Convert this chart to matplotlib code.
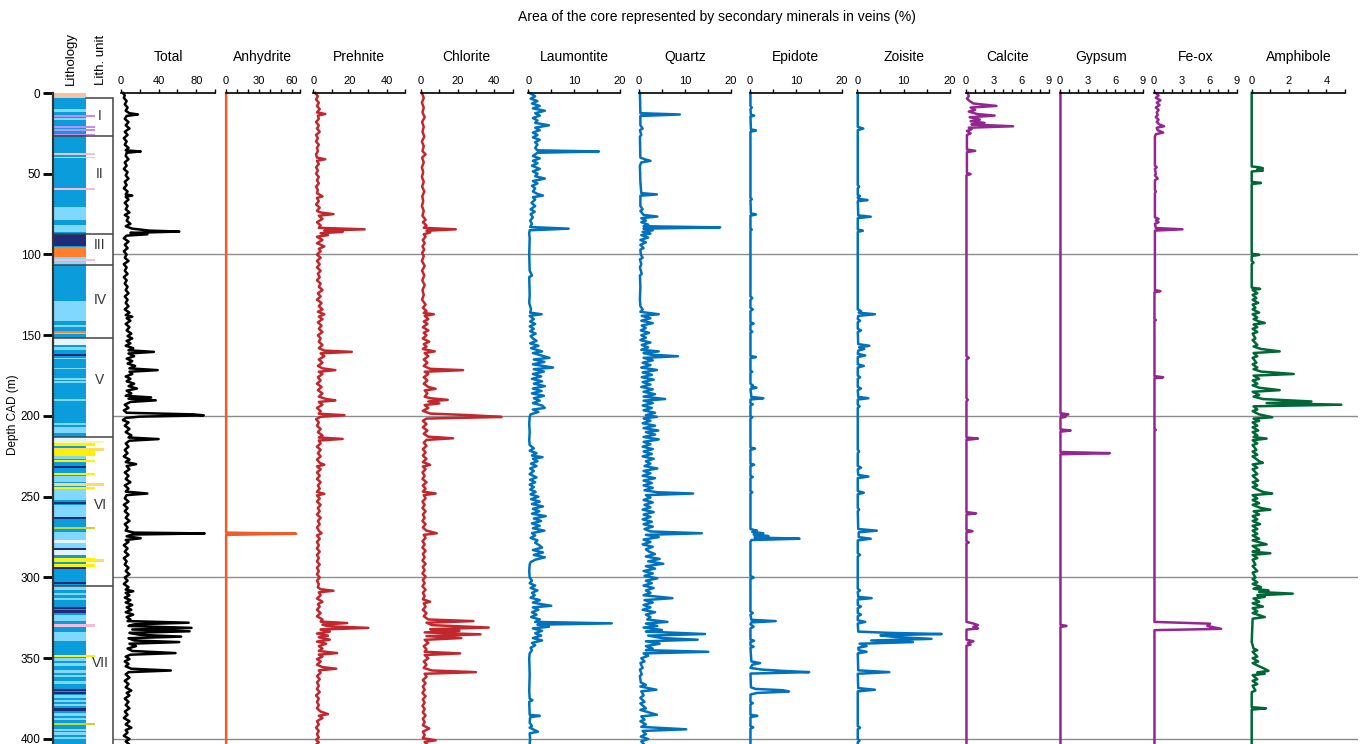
import numpy as np
import matplotlib.pyplot as plt
from matplotlib.patches import Rectangle

plt.rcParams['font.family'] = ['Liberation Sans', 'DejaVu Sans']

# ---------------------------------------------------------------------------
# Vein mineral logs: (depth CAD in m, % of core area)
# ---------------------------------------------------------------------------
TOTAL = [
    (0, 2), (1.5, 4), (3, 3), (5, 6), (7, 4), (9, 7), (11, 5), (12.5, 9), (13.3, 18), (14.2, 6),
    (16, 4), (18, 8), (20, 5), (22, 9), (24, 4), (26, 7), (28, 3), (30, 6), (32, 4), (34, 8),
    (35.5, 5), (36.2, 21), (37, 6), (39, 5), (41, 8), (43, 4), (45, 6), (47, 3), (49, 7), (51, 5),
    (53, 8), (55, 4), (57, 6), (59, 3), (61, 7), (62.8, 5), (63.5, 12), (64.3, 5), (66, 8), (68, 4),
    (70, 7), (72, 5), (74, 9), (75.5, 4), (77, 8), (79, 6), (81, 10), (82.5, 5), (84, 12), (85.2, 30),
    (85.8, 62), (86.6, 10), (87.5, 28), (88.3, 6), (90, 3), (92, 8), (94, 4), (96, 7), (98, 3), (100, 6),
    (102, 4), (104, 8), (106, 3), (108, 6), (110, 4), (112, 7), (114, 3), (116, 6), (118, 4), (120, 7),
    (122, 5), (124, 8), (126, 4), (128, 7), (130, 5), (132, 8), (134, 4), (136, 9), (137.5, 5), (138.5, 12),
    (139.5, 6), (141, 10), (143, 5), (145, 9), (147, 6), (149, 11), (150.5, 7), (152, 12), (153.5, 6), (155, 10),
    (156.5, 5), (158, 13), (159.3, 8), (160.3, 35), (161.3, 8), (163, 14), (164.5, 6), (166, 12), (167.5, 7), (169, 15),
    (170.5, 9), (171.6, 39), (172.6, 9), (174, 12), (175.5, 5), (177, 10), (178.5, 6), (180, 14), (181.5, 8), (183, 17),
    (184.3, 6), (186, 11), (187.5, 5), (188.5, 32), (189.3, 8), (190.3, 37), (191.3, 10), (193, 4), (195, 8), (196.5, 3),
    (198, 6), (199, 77), (199.6, 88), (200.4, 20), (201.2, 5), (202.5, 2), (204, 8), (206, 4), (208, 9), (210, 5),
    (212, 11), (213.3, 8), (214.3, 40), (215.3, 9), (217, 5), (219, 8), (221, 4), (223, 7), (225, 3), (227, 9),
    (228.5, 5), (229.8, 16), (231, 6), (233, 9), (235, 4), (237, 8), (239, 5), (241, 10), (243, 4), (245, 8),
    (246.8, 5), (248, 28), (249, 6), (251, 4), (253, 8), (255, 3), (257, 7), (259, 4), (261, 8), (263, 5),
    (265, 9), (267, 4), (269, 7), (271, 5), (272.2, 14), (272.7, 89), (273.4, 12), (274.5, 6), (275.7, 21), (276.8, 5),
    (278, 8), (280, 3), (282, 7), (284, 4), (286, 8), (288, 3), (290, 6), (292, 4), (294, 8), (296, 5),
    (298, 9), (300, 4), (302, 7), (304, 3), (306, 8), (307.5, 5), (308.5, 13), (309.5, 5), (311, 9), (312.5, 4),
    (314, 10), (315.5, 5), (317, 12), (318.5, 6), (320, 11), (321.5, 5), (323, 13), (324.5, 6), (326, 10), (327, 7),
    (328, 72), (329, 14), (330, 8), (331.2, 75), (332.2, 12), (333.3, 73), (334.3, 9), (335.5, 20), (336.6, 64), (337.6, 8),
    (339, 14), (340, 62), (341, 9), (342.5, 16), (344, 7), (345.5, 12), (346.8, 58), (347.8, 10), (349, 5), (350.5, 9),
    (352, 4), (353.5, 8), (355, 5), (356.5, 11), (357.6, 53), (358.6, 8), (360, 5), (362, 9), (364, 4), (366, 8),
    (368, 5), (370, 11), (371.5, 6), (373, 9), (375, 4), (377, 8), (379, 5), (381, 9), (383, 4), (385, 7),
    (387, 3), (389, 9), (391, 5), (393, 11), (394.5, 5), (396, 7), (398, 3), (400, 9), (401.5, 5), (403, 8),
]

ANHYDRITE = [(0, 0.4), (272.2, 0.4), (272.9, 64), (273.6, 0.4), (403, 0.4)]

PREHNITE = [
    (0, 1), (2, 2.5), (4, 1.5), (6, 3), (8, 2), (10, 3.5), (12, 2), (13, 6.5), (14, 2.5), (16, 3),
    (18, 1.5), (20, 3), (22, 2), (24, 3.5), (26, 1.5), (28, 2.5), (30, 1.5), (32, 3), (34, 2), (36, 2.5),
    (38, 1.5), (40, 2), (41, 6.5), (42, 2), (44, 3), (46, 1.5), (48, 2.5), (50, 1.5), (52, 3), (54, 2),
    (56, 3), (58, 1.5), (60, 2.5), (62, 2), (64, 5), (65, 2), (67, 3), (69, 1.5), (71, 3.5), (73, 2),
    (74, 4), (75, 11), (76, 3), (78, 5), (80, 2), (82, 4), (83.5, 3), (84.4, 28), (85.2, 6), (86, 16),
    (86.8, 4), (88, 8), (89, 2), (91, 5), (93, 2), (95, 6), (96.5, 3), (98, 4), (100, 2), (102, 4),
    (104, 2), (106, 3.5), (108, 2), (110, 4), (112, 2.5), (114, 3.5), (116, 2), (118, 4), (120, 3), (122, 5),
    (124, 2.5), (126, 4), (128, 2), (130, 4.5), (132, 3), (134, 5), (135.5, 2.5), (137, 6), (138.5, 3), (140, 5),
    (142, 2.5), (144, 4.5), (146, 3), (148, 5), (150, 2.5), (152, 4), (154, 3), (156, 5), (158, 3), (159.5, 6),
    (160.3, 21), (161.2, 4), (163, 6), (165, 3), (167, 5), (169, 2.5), (170.5, 5), (171.6, 12), (172.6, 3), (174, 5),
    (176, 2.5), (178, 4), (180, 2), (182, 4.5), (184, 2.5), (186, 5), (188, 3), (189.5, 7), (190.3, 12), (191.3, 3),
    (193, 5), (195, 2), (197, 4), (198.6, 3), (199.5, 17), (200.5, 4), (202, 1.5), (204, 3), (206, 2), (208, 4),
    (210, 2.5), (212, 5), (213.3, 3), (214.2, 16), (215.2, 3), (217, 4), (219, 2), (221, 4), (223, 2.5), (225, 4),
    (227, 2), (229, 3.5), (230.2, 6), (231.2, 2), (233, 4), (235, 2), (237, 3.5), (239, 2), (241, 4), (243, 2.5),
    (245, 3.5), (247, 2), (248.2, 6), (249.2, 2), (251, 3.5), (253, 2), (255, 4), (257, 2.5), (259, 3.5), (261, 2),
    (263, 4), (265, 2.5), (267, 3.5), (269, 2), (271, 3), (272.6, 4.5), (274, 2), (276, 3.5), (278, 2), (280, 3),
    (282, 2), (284, 3.5), (286, 2), (288, 3), (290, 2), (292, 3.5), (294, 2), (296, 3), (298, 2), (300, 3.5),
    (302, 2), (304, 3), (306, 2.5), (307.3, 4), (308.2, 11), (309.2, 3), (311, 4), (313, 2), (315, 5), (316.5, 2.5),
    (318, 3.5), (320, 2), (322, 4), (324, 2), (326, 5), (327.3, 4), (328.2, 18.5), (329.2, 5), (330.2, 8), (331.2, 30),
    (332.2, 4), (333.5, 9), (334.7, 2), (336, 8), (337, 3), (338.5, 9), (339.7, 2), (341, 7), (342.5, 3), (344, 5),
    (345.5, 3), (346.8, 13), (347.8, 3), (349, 5), (350.5, 2), (352, 4), (354, 2), (355.5, 5), (356.5, 12.5), (357.5, 3),
    (359, 4), (361, 2), (363, 3.5), (365, 2), (367, 3), (369, 2), (371, 3.5), (373, 1.5), (375, 3), (377, 2),
    (379, 3), (381, 2), (383, 4), (384.6, 8), (385.6, 3), (387, 5), (389, 2), (391, 3), (393, 1.5), (395, 3),
    (397, 2), (399, 3), (400.5, 1.5), (402, 3), (403, 2),
]

CHLORITE = [
    (0, 0.5), (3, 1.5), (6, 0.5), (9, 1.5), (12, 0.8), (15, 2), (18, 0.6), (21, 1.5), (24, 0.8), (27, 1.8),
    (30, 0.5), (33, 1.5), (36, 0.8), (38, 2.5), (40, 0.6), (43, 1.5), (46, 0.5), (49, 1.2), (52, 0.5), (55, 1.5),
    (58, 0.6), (61, 1.8), (64, 0.7), (67, 1.2), (70, 0.5), (73, 1.5), (76, 0.8), (78.5, 2.5), (80, 1), (82, 3),
    (83.5, 1.5), (84.4, 19), (85.3, 3), (86.3, 5), (87.5, 1.5), (89, 2.5), (91, 1), (93, 2), (95, 0.8), (97, 1.8),
    (99, 0.6), (101, 1.5), (104, 0.5), (107, 2), (110, 0.6), (113, 1.8), (116, 0.7), (119, 2), (122, 0.8), (125, 1.5),
    (128, 0.6), (131, 2.5), (133, 1), (135, 3), (136.2, 1.5), (137, 7), (138, 2), (140, 4), (141.5, 1.5), (143, 3.5),
    (145, 1), (147, 4), (148.5, 1.5), (150, 3), (152, 1), (154, 4.5), (155.5, 1.5), (157, 3), (158.5, 1), (160, 7.5),
    (161, 2), (163, 4), (165, 1.5), (167, 3.5), (169, 1.5), (170.8, 5), (171.6, 23), (172.6, 2), (174, 4), (176, 1.5),
    (178, 3.5), (180, 1.5), (182, 4), (183.2, 8), (184.2, 2), (186, 3.5), (188, 2), (189, 5), (190, 14.6), (191, 4),
    (192.2, 10), (193.2, 2), (195, 4), (196.8, 1), (198.5, 5), (199.5, 27), (200.6, 44), (201.6, 3), (203, 1), (205, 3),
    (207, 1), (209, 3.5), (211, 1.5), (212.8, 4), (213.8, 17.5), (214.8, 3), (216.5, 1.5), (218.5, 3), (220.5, 1), (222.5, 2.5),
    (224.5, 1), (226.5, 3), (228.5, 1), (230.3, 5), (231.3, 1), (233, 2.5), (235, 0.8), (237, 2), (239, 0.8), (241, 3),
    (243, 1), (245, 2.5), (246.8, 1), (248, 8), (249, 1.5), (251, 2.5), (253, 0.8), (255, 2), (257, 0.8), (259, 2.5),
    (261, 1), (263, 2), (265, 0.8), (267, 2.5), (269, 1), (271, 3), (272.6, 8.6), (273.6, 1.5), (275.5, 2.5), (277.5, 0.8),
    (279.5, 2), (281.5, 0.8), (283.5, 2.5), (285.5, 1), (287.5, 2), (289.5, 0.8), (291.5, 2.5), (293.5, 1), (295.5, 2), (297.5, 0.8),
    (299.5, 2.5), (301.5, 1), (303.5, 2), (305.5, 0.8), (307.5, 2.5), (309.5, 1), (311.5, 2), (313.5, 1), (315, 5), (316, 1.5),
    (318, 2.5), (320, 1), (322, 3), (324, 1.5), (326, 4), (327, 28.6), (328, 3), (329.5, 6), (331, 37), (332, 5),
    (333, 21), (334, 2), (335.2, 32.5), (336.3, 3), (337.5, 22), (338.6, 2), (340.5, 4), (342.5, 1.5), (344.5, 3), (346, 2),
    (347, 21.4), (348, 2), (350, 4), (352, 1.5), (354, 3), (356, 1.5), (357.6, 6), (358.6, 30), (359.6, 2), (361.5, 3),
    (363.5, 1), (365.5, 2.5), (367.5, 1), (369.5, 2), (371.5, 0.8), (373.5, 2.5), (375.5, 1), (377.5, 2), (379.5, 0.8), (381.5, 2),
    (383.5, 1), (385.5, 2.5), (387.5, 1), (389.5, 2), (391.5, 1), (393.5, 4.5), (395.5, 1), (397.5, 2), (399.5, 1), (400.8, 8),
    (401.8, 2), (403, 3),
]

LAUMONTITE = [
    (0, 0.3), (2, 1.5), (3.5, 0.5), (5, 2), (6.5, 0.8), (8, 2.5), (9.5, 1), (11, 3.6), (12.5, 1.5), (14, 2.5),
    (15.5, 1), (17, 2), (18.5, 1.5), (20, 4.5), (21.5, 1.5), (23, 2.5), (24.5, 1), (26, 2), (27.5, 1), (29, 2.5),
    (30.5, 1.5), (32, 2), (34, 1.5), (35.5, 2), (36.2, 15.4), (37, 2), (39, 1), (40.5, 2.5), (42, 1), (43.5, 2),
    (45, 0.8), (47, 2.5), (48.5, 1), (50, 2), (51.5, 1.5), (53, 3.6), (54.5, 1), (56, 2), (57.5, 0.8), (59, 1.5),
    (61, 1), (62.5, 2), (63.5, 3.2), (64.5, 1), (66, 1.5), (68, 0.7), (70, 1.5), (72, 0.5), (73.5, 1.4), (75, 0.5),
    (77, 1), (79, 0.4), (81, 0.8), (83, 0.4), (84, 8.8), (85, 0.3), (87, 0.2), (90, 0.3), (100, 0.2), (110, 0.3),
    (113, 0.8), (114, 0.2), (125, 0.3), (130, 0.2), (134, 0.6), (136, 0.4), (137, 2.9), (138, 0.3), (140, 1.2), (141.5, 0.4),
    (143, 1.5), (144.5, 0.3), (146, 1.2), (147.5, 0.4), (149, 1.6), (150.5, 0.5), (152, 1), (153.5, 1.8), (155, 0.4), (156.5, 2.2),
    (158, 0.6), (160, 3), (161, 1), (162.5, 2.8), (164, 4.6), (165, 1.2), (166.5, 3.5), (168, 1), (169, 3.2), (170, 5.4),
    (171, 1.2), (172.5, 3.4), (174, 1), (175.5, 2.8), (177, 0.8), (178.5, 3), (180, 1.2), (181.5, 3.6), (183, 1), (184.5, 2.9),
    (186, 0.8), (187.5, 3.4), (189, 1.2), (190.5, 2.5), (192, 1), (193.5, 3), (195, 3.6), (196, 1), (197.5, 2.2), (199, 0.5),
    (200.5, 0.3), (205, 0.2), (210, 0.3), (215, 0.2), (218, 0.3), (220, 1.2), (221.5, 0.3), (223, 1.8), (224.5, 0.8), (225.5, 3.1),
    (226.5, 1), (228, 2), (229.5, 0.6), (231, 1.8), (232.5, 0.4), (234, 1.2), (236, 0.3), (238, 1.8), (239.5, 0.4), (241, 1.5),
    (242.5, 0.3), (244, 1.2), (245.5, 0.4), (247, 1.6), (248.5, 0.5), (250, 2.2), (251.5, 0.6), (253, 2.5), (254.5, 0.8), (256, 3.2),
    (257.5, 1), (259, 2.4), (260.5, 0.8), (262, 3.8), (263.5, 1.2), (265, 2.8), (266.5, 0.8), (268, 2.5), (269.5, 1), (271, 3.5),
    (272.5, 0.8), (274, 1.5), (275.5, 0.5), (277, 2), (278.5, 1.5), (280, 2.4), (281.5, 3), (283, 1), (284.5, 3.2), (286, 1.2),
    (287.5, 3.6), (289, 1.5), (290.5, 0.5), (292, 0.3), (296, 0.2), (300, 0.3), (302, 0.8), (303.5, 0.3), (305, 1.5), (306.5, 0.5),
    (308, 2), (309.5, 0.8), (311, 1.4), (312.5, 0.5), (314, 2.5), (315.5, 1), (316.5, 2.8), (317.5, 5), (318.5, 1), (320, 2.2),
    (321.5, 0.8), (323, 1.8), (324.5, 0.6), (326, 2.5), (327.5, 1.5), (328.4, 18.2), (329.2, 2), (330.5, 4.5), (331.5, 1), (333, 3),
    (334.5, 1.5), (336, 2.8), (337.5, 1), (339, 3), (340.5, 0.8), (342, 1.5), (343.5, 0.5), (345, 0.8), (347, 0.3), (350, 0.2),
    (360, 0.3), (370, 0.2), (375, 0.3), (376, 0.9), (377, 0.2), (385, 0.3), (385.7, 2.5), (386.5, 0.4), (390, 0.3), (392, 0.8),
    (393, 0.3), (395.5, 2.1), (396.5, 0.3), (400, 0.4), (403, 0.3),
]

QUARTZ = [
    (0, 0.2), (12.5, 0.3), (13.3, 8.9), (14.2, 0.3), (20, 0.3), (22, 0.8), (23, 0.2), (26, 0.5), (27, 0.2), (40, 0.3),
    (41, 1.2), (42, 2.5), (43, 0.5), (45, 0.2), (55, 0.3), (62, 0.5), (62.8, 3.9), (63.6, 0.3), (70, 0.3), (72, 0.8),
    (73, 0.3), (75.5, 1), (76.5, 4), (77.5, 0.5), (79, 1.5), (80, 0.5), (81.5, 2), (82.5, 1), (83.2, 17.7), (84, 1),
    (85, 3), (86, 0.8), (87, 2.5), (88, 0.5), (89.5, 2), (91, 0.3), (92.5, 1.5), (94, 0.3), (96, 1), (97, 0.3),
    (100, 0.4), (102, 0.8), (103, 0.2), (106, 0.5), (108, 0.2), (112, 0.6), (113, 0.2), (120, 0.3), (128, 0.2), (132, 0.3),
    (134, 0.8), (135.5, 0.3), (137, 4.3), (138, 0.6), (139.5, 2.5), (141, 0.5), (142.5, 3), (144, 0.6), (145.5, 1.5), (147, 0.4),
    (148.5, 2.2), (150, 0.5), (151.5, 1.5), (153, 0.3), (154.5, 2.5), (156, 0.6), (157.5, 2), (159, 0.5), (160, 4.3), (161, 1),
    (162, 2.5), (163, 8.5), (164, 1), (165.5, 3), (167, 0.8), (168.5, 2.5), (170, 0.5), (171.5, 3.9), (173, 0.8), (174.5, 2.8),
    (176, 0.6), (177.5, 3.2), (179, 0.8), (180.5, 2.5), (182, 0.5), (183.5, 3), (185, 1), (186.5, 3.5), (188, 1), (189.5, 5.7),
    (190.5, 1), (192, 3), (193.5, 0.8), (195, 2.8), (196.5, 1), (198, 3.5), (199.5, 1.5), (200.5, 3.9), (201.5, 1), (203, 2.5),
    (204.5, 0.8), (206, 3.5), (207.5, 1), (209, 4.2), (210, 1.5), (211.5, 3.5), (213, 1), (214.5, 4.3), (216, 1), (217.5, 2.5),
    (219, 0.8), (220.5, 3), (222, 1), (223.5, 2.8), (225, 0.8), (226.5, 3.2), (228, 1.5), (229.5, 2.5), (231, 1.2), (232.5, 4),
    (234, 1), (235.5, 2.5), (237, 0.8), (238.5, 3.5), (240, 1), (241.5, 2.8), (243, 1), (244.5, 3), (246, 1.2), (247.2, 4),
    (248, 11.8), (249, 1.5), (250.5, 2.5), (252, 1), (253.5, 3), (255, 1.2), (256.5, 2.5), (258, 0.8), (259.5, 3.2), (261, 1),
    (262.5, 2.5), (264, 0.8), (265.5, 2.8), (267, 1), (268.5, 3), (270, 1.2), (271.5, 2.5), (272.6, 13.7), (273.6, 1.5), (275, 4.3),
    (276.5, 1), (278, 2.5), (279.5, 0.8), (281, 3), (282.5, 1.5), (284, 2.2), (285.5, 3.5), (287, 1.5), (288.5, 4.5), (290, 2),
    (291.5, 5.3), (293, 1.5), (294.5, 3.5), (296, 1), (297.5, 3), (299, 1.2), (300.5, 4), (302, 1.5), (303.5, 2.8), (305, 1),
    (306.5, 3.2), (308, 1.5), (309.5, 2.5), (311, 1), (312.8, 7.3), (314, 1.2), (315.5, 3), (317, 1), (318.5, 2.5), (320, 0.8),
    (321.5, 3.5), (323, 1.5), (324.5, 2.5), (326, 1.8), (327.5, 6.2), (328.5, 1.5), (330, 4), (331, 1), (332.5, 5), (333.5, 1.5),
    (335, 14.4), (336, 2), (337.5, 5), (338.5, 12.8), (339.5, 1.5), (341, 4.5), (342.5, 1.5), (344, 3), (345, 1.5), (346, 15.1),
    (347, 1), (348.5, 2), (350, 0.5), (352, 1.2), (353, 0.3), (356, 0.8), (357, 0.2), (360, 0.6), (361, 0.2), (365, 0.4),
    (366.5, 1.5), (367.5, 0.3), (369.5, 3.8), (370.5, 0.5), (373, 1), (374.5, 0.3), (377, 1.2), (378, 0.3), (381, 1.5), (382, 0.3),
    (385, 3.9), (386, 0.5), (388, 1.2), (389, 0.3), (391, 1.5), (392.5, 0.5), (394, 10.3), (395, 0.8), (397, 1.5), (398.5, 0.4),
    (400, 2), (401.5, 0.5), (403, 1),
]

EPIDOTE = [
    (0, 0.1), (8, 0.1), (9, 0.4), (10, 0.1), (13.5, 0.2), (14, 0.9), (14.6, 0.1), (22.5, 0.2), (23.2, 1.3), (24, 0.1),
    (65, 0.1), (65.8, 0.4), (66.5, 0.1), (74.5, 0.2), (75.2, 1.3), (76, 0.1), (84, 0.1), (84.6, 0.4), (85.2, 0.1), (126, 0.1),
    (127, 0.5), (128, 0.1), (133, 0.1), (134, 0.6), (135, 0.1), (142, 0.1), (142.8, 0.8), (143.5, 0.1), (147, 0.1), (147.8, 0.5),
    (148.5, 0.1), (162.8, 0.1), (163.5, 1.3), (164.2, 0.1), (172, 0.1), (172.6, 0.5), (173.2, 0.1), (180, 0.1), (181, 0.6), (181.8, 0.3),
    (182.5, 1.4), (183.3, 0.1), (188.2, 0.3), (189, 2.9), (189.8, 0.1), (192, 0.1), (192.8, 0.6), (193.5, 0.1), (200, 0.1), (200.8, 0.5),
    (201.5, 0.1), (219.5, 0.1), (220.2, 1.1), (221, 0.1), (229.5, 0.1), (230.2, 0.9), (231, 0.1), (237, 0.1), (237.8, 0.6), (238.5, 0.1),
    (246.5, 0.1), (247.2, 0.5), (248, 0.1), (270, 0.1), (271, 1.5), (271.8, 0.5), (272.6, 2.9), (273.4, 0.8), (274.3, 4), (275.2, 1),
    (276, 10.8), (276.8, 0.3), (277.8, 0.1), (299, 0.1), (300, 0.8), (301, 0.1), (321, 0.1), (322, 0.6), (323, 0.1), (326.2, 0.3),
    (327, 5.6), (327.8, 0.3), (329, 0.1), (330.5, 0.8), (331.5, 0.1), (338.5, 0.1), (339.2, 0.9), (340, 0.1), (342, 0.1), (342.8, 0.8),
    (343.6, 0.1), (352, 0.3), (353, 2.2), (354, 0.5), (356, 0.1), (357, 2.5), (357.8, 7), (358.6, 12.9), (359.5, 0.1), (368, 0.2),
    (369, 1.2), (369.8, 7.2), (370.6, 8.5), (371.5, 1.5), (372.5, 0.1), (377, 0.1), (377.8, 0.6), (378.6, 0.1), (385, 0.1), (385.7, 1.6),
    (386.5, 0.1), (392, 0.1), (392.8, 0.7), (393.6, 0.1), (403, 0.1),
]

ZOISITE = [
    (0, 0.1), (21, 0.1), (22, 1.3), (23, 0.1), (57, 0.1), (58, 0.4), (59, 0.1), (63, 0.1), (63.8, 0.6), (64.5, 0.1),
    (65.5, 0.2), (66.3, 2.2), (67, 0.1), (75.8, 0.2), (76.6, 2.9), (77.5, 0.1), (84.5, 0.1), (85.3, 1.2), (86, 0.1), (134, 0.1),
    (135, 0.8), (136, 0.3), (137, 3.8), (138, 0.2), (140, 0.1), (141, 0.6), (142, 0.1), (146, 0.1), (147, 0.8), (148, 0.1),
    (155.5, 0.2), (156.5, 2.6), (157.5, 0.4), (158.5, 1.5), (159.5, 0.2), (161.5, 0.1), (162.5, 1.7), (163.5, 0.1), (168, 0.1), (169, 1.4),
    (170, 0.1), (175, 0.1), (176, 0.6), (177, 0.1), (182, 0.1), (183, 0.8), (184, 0.1), (188.2, 0.2), (189, 2.4), (189.8, 0.1),
    (193, 0.1), (194, 0.5), (195, 0.1), (221, 0.1), (222, 0.4), (223, 0.1), (231, 0.1), (232, 0.8), (233, 0.1), (236.5, 0.2),
    (237.5, 2.4), (238.5, 0.1), (246.5, 0.1), (247.5, 1.4), (248.5, 0.1), (257, 0.1), (258, 0.4), (259, 0.1), (270, 0.2), (271, 4.2),
    (272, 0.3), (275, 0.3), (276, 2.9), (277, 0.1), (285, 0.1), (286, 0.6), (287, 0.1), (307, 0.1), (308, 0.6), (309, 0.1),
    (312, 0.2), (312.8, 3.1), (313.6, 0.1), (317, 0.1), (318, 0.8), (319, 0.1), (322, 0.1), (323, 0.8), (324, 0.1), (326.5, 0.1),
    (327.5, 1.7), (328.5, 0.1), (333.5, 0.2), (334.3, 7), (335, 18.2), (335.8, 5), (336.8, 8), (338, 16), (339, 3), (340, 12),
    (341, 0.5), (342.5, 2), (343.5, 0.2), (345, 0.3), (346, 2), (347, 0.1), (357.5, 0.2), (358.6, 6.9), (359.6, 0.1), (368.5, 0.2),
    (369.5, 3.8), (370.5, 0.1), (392, 0.1), (393, 0.6), (394, 0.1), (400, 0.1), (401, 0.5), (402, 0.1), (403, 0.1),
]

CALCITE = [
    (0, 0.2), (2, 0.3), (3.5, 0.1), (5, 0.4), (6.5, 0.8), (8, 3.3), (9, 0.5), (10.5, 1), (11.5, 0.3), (13, 1.2),
    (14, 3.1), (15, 0.4), (16.5, 1.5), (17.5, 0.5), (18.5, 2), (19.5, 0.6), (20.6, 5.1), (21.5, 0.3), (22.5, 0.6), (23.5, 0.1),
    (25, 0.5), (26, 0.1), (35, 0.1), (35.8, 1), (36.6, 0.1), (49.5, 0.1), (50.2, 0.5), (51, 0.05), (163, 0.05), (164, 0.3),
    (165, 0.05), (189, 0.05), (190, 0.2), (191, 0.05), (213.3, 0.05), (214, 1.3), (214.8, 0.05), (259.5, 0.05), (260.3, 1.1), (261, 0.05),
    (270.5, 0.05), (271.3, 0.7), (272, 0.05), (277.5, 0.05), (278.3, 0.3), (279, 0.05), (327.5, 0.05), (328.5, 0.8), (329.5, 1.3), (330.5, 0.8),
    (331.5, 1.3), (332.3, 0.05), (338.5, 0.05), (339.5, 0.8), (340.5, 0.2), (341.5, 0.5), (342.3, 0.05), (403, 0.05),
]

GYPSUM = [
    (0, 0.05), (198.3, 0.05), (199, 0.9), (199.7, 0.1), (200.5, 0.6), (201.2, 0.05), (208.3, 0.05), (209, 1.15), (209.7, 0.05),
    (222.3, 0.05), (223, 5.4), (223.7, 0.05), (329.3, 0.05), (330, 0.7), (330.7, 0.05), (403, 0.05),
]

FE_OX = [
    (0, 0.2), (1.5, 0.5), (3, 0.2), (4.5, 0.7), (6, 0.3), (7.5, 0.6), (9, 0.2), (10.5, 0.5), (12, 0.3), (13.5, 0.4),
    (15, 0.2), (16.5, 0.5), (18, 0.3), (19.5, 0.6), (20.6, 1.1), (21.5, 0.3), (23, 0.4), (24.5, 1), (25.5, 0.2), (27, 0.1),
    (45, 0.1), (46, 0.3), (47, 0.1), (50, 0.2), (51, 0.1), (53, 0.4), (54, 0.1), (60, 0.1), (61, 0.2), (62, 0.1),
    (77, 0.1), (78, 0.5), (79, 0.2), (80, 0.5), (81, 0.1), (83.6, 0.2), (84.4, 3.1), (85.2, 0.1), (122, 0.1), (122.7, 0.7),
    (123.4, 0.05), (140, 0.05), (140.6, 0.2), (141.2, 0.05), (175.3, 0.05), (176, 1), (176.7, 0.05), (208, 0.05), (208.6, 0.2), (209.2, 0.05),
    (327.5, 0.05), (328.6, 6.1), (330, 5.8), (331.8, 7.3), (332.6, 0.05), (403, 0.05),
]

AMPHIBOLE = [
    (0, 0), (45.5, 0), (46, 0.4), (46.6, 0.6), (47.3, 0.3), (48, 0.6), (48.6, 0), (55, 0), (55.7, 0.5), (56.4, 0),
    (99.5, 0), (100.2, 0.4), (101, 0), (104, 0), (105, 0.1), (106, 0), (120.5, 0), (121.3, 0.45), (122, 0.05), (124, 0.3),
    (125, 0.05), (127, 0.25), (128, 0.05), (130, 0.35), (131, 0.05), (133, 0.2), (134, 0.05), (136, 0.4), (137, 0.05), (139, 0.3),
    (140, 0.1), (141.5, 0.4), (142.4, 0.7), (143.3, 0.1), (145, 0.3), (146, 0.05), (148, 0.3), (149, 0.05), (152, 0.2), (153, 0.05),
    (156, 0.3), (157, 0.1), (158.5, 0.5), (160, 1.5), (161, 0.1), (163, 0.3), (164, 0.05), (167, 0.25), (168, 0.05), (170, 0.3),
    (171, 0.1), (172.5, 0.5), (174, 2.25), (175, 0.1), (177, 0.4), (178, 0.05), (180, 0.3), (181, 0.05), (182.5, 0.4), (184, 1.5),
    (185, 0.05), (187, 0.4), (188, 0.1), (189.5, 0.6), (191, 3.2), (192, 0.8), (193, 4.8), (194, 0.1), (196, 0.3), (197, 0.05),
    (199, 0.4), (200.8, 1.1), (201.6, 0.1), (203, 0.4), (204, 0.05), (206, 0.3), (207, 0.05), (209, 0.35), (210, 0.05), (212, 0.3),
    (213, 0.1), (214, 0.8), (215, 0.05), (217, 0.3), (218, 0.05), (221, 0.25), (222, 0.05), (224, 0.3), (225, 0.05), (228, 0.4),
    (229, 0.6), (230, 0.05), (232, 0.3), (233, 0.05), (236, 0.3), (237, 0.05), (240, 0.35), (241, 0.05), (243, 0.3), (244, 0.05),
    (246, 0.4), (247, 0.6), (248, 1.1), (249, 0.05), (251, 0.3), (252, 0.05), (254, 0.4), (255, 0.05), (257, 0.5), (258, 1),
    (259, 0.1), (261, 0.4), (262, 0.05), (264, 0.3), (265, 0.05), (267, 0.45), (268, 0.05), (270, 0.3), (271, 0.05), (273, 0.3),
    (274, 0.05), (276, 0.4), (277, 0.05), (279.5, 0.8), (280.5, 0.05), (283, 0.4), (284, 0.05), (285, 1), (286, 0.05), (288, 0.3),
    (289, 0.05), (292, 0.2), (293, 0.05), (296, 0.3), (297, 0.05), (300, 0.2), (301, 0.05), (303, 0.3), (304, 0.05), (306, 0.5),
    (307, 0.1), (308, 0.9), (309, 0.4), (310, 2.2), (311, 0.3), (312, 0.7), (313, 0.1), (315, 0.4), (316, 0.05), (318, 0.6),
    (319, 0.05), (321, 0.3), (322, 0.05), (324.5, 0.7), (325.5, 0.05), (340, 0), (344, 0.1), (345, 0.3), (346, 0.05), (349, 0.3),
    (350, 0.05), (352, 0.35), (353, 0.05), (355, 0.4), (356, 0.6), (357.8, 0.9), (358.8, 0.3), (359.6, 0.7), (360.5, 0.05), (363, 0.3),
    (364, 0.05), (366, 0.3), (367, 0.05), (370, 0.2), (371, 0), (380.3, 0), (381, 0.77), (381.8, 0), (403, 0),
]

# Track names, x-axis maximum, tick step and labelled ticks
TRACK_NAMES = ['Total', 'Anhydrite', 'Prehnite', 'Chlorite', 'Laumontite', 'Quartz',
               'Epidote', 'Zoisite', 'Calcite', 'Gypsum', 'Fe-ox', 'Amphibole']
TRACK_DATA = [TOTAL, ANHYDRITE, PREHNITE, CHLORITE, LAUMONTITE, QUARTZ,
              EPIDOTE, ZOISITE, CALCITE, GYPSUM, FE_OX, AMPHIBOLE]
TRACK_XMAX = [100, 67.5, 50, 50, 20, 20, 20, 20, 9, 9, 9, 5]
TRACK_STEP = [20, 10, 10, 10, 5, 5, 5, 5, 1, 1, 1, 1]
TRACK_LABELS = [[0, 40, 80], [0, 30, 60], [0, 20, 40], [0, 20, 40], [0, 10, 20], [0, 10, 20],
                [0, 10, 20], [0, 10, 20], [0, 3, 6, 9], [0, 3, 6, 9], [0, 3, 6, 9], [0, 2, 4]]

# Lithological units
UNIT_TOPS = [3, 26.6, 87, 106.5, 151.5, 213.3, 305.3]
UNIT_NAMES = ['I', 'II', 'III', 'IV', 'V', 'VI', 'VII']
UNIT_LABEL_DEPTH = [14, 50, 94, 128, 178, 255, 353]

# Lithology column: (top, bottom, rock type)
LITHO_BANDS = [
    (0, 2.9, 'sed'), (10, 11.7, 'light'), (15.7, 17, 'light'), (70.4, 78.6, 'light'),
    (82, 85.9, 'light'), (87.3, 94.7, 'dark'), (95.5, 101.3, 'orange'), (101.3, 106.5, 'light'),
    (128.6, 141, 'light'), (143.7, 145, 'light'), (147.4, 148.4, 'orange'), (148.4, 149.5, 'light'),
    (151.7, 156, 'pale'), (157.5, 159, 'light'), (161.6, 162.8, 'dark'), (164, 165, 'light'),
    (170, 171, 'light'), (176.5, 177.5, 'light'), (178.5, 179.5, 'light'), (189.5, 190.5, 'light'),
    (204.5, 205.5, 'light'), (207, 210.5, 'light'), (213.3, 215.3, 'pale'), (224.7, 226.8, 'light'),
    (230.9, 232.4, 'dark'), (237, 241, 'light'), (245.3, 252, 'light'), (253, 254.5, 'dark'),
    (255, 262.3, 'light'), (262.3, 263.8, 'dark'), (272, 276.5, 'light'), (276.8, 278.4, 'pale'),
    (278.4, 281.8, 'light'), (282, 283, 'dark'), (283.2, 286, 'pale'), (293.7, 295, 'dark'),
    (302.6, 304, 'dark'), (305.5, 307.5, 'light'), (309.5, 310.8, 'light'), (312.5, 314, 'light'),
    (318.4, 319.6, 'dark'), (320.4, 321.7, 'dark'), (323.3, 327, 'light'), (333.5, 339.3, 'light'),
    (350, 352, 'light'), (353.1, 354.8, 'light'), (357.2, 358.9, 'light'), (360.3, 361.4, 'light'),
    (364, 366, 'light'), (369.2, 370.4, 'dark'), (370.9, 372.2, 'dark'), (372.8, 374.9, 'light'),
    (375.9, 376.9, 'light'), (378.4, 379.6, 'light'), (380.8, 382.4, 'dark'), (384, 386, 'light'),
    (387, 388.5, 'light'), (393.8, 395, 'light'), (395.8, 397.5, 'light'), (398.9, 400, 'light'),
]

# Thin marker horizons drawn across the column edge: (top, bottom, type, long bar?)
LITHO_MARKS = [
    (13.6, 15, 'purple', False), (20.6, 21.8, 'purple', False), (22.5, 23.5, 'purple', False),
    (25.1, 26.2, 'purple', False), (37.3, 38.4, 'pink', False), (39.4, 40.4, 'pink', False),
    (59, 60, 'pink', False), (102.8, 104, 'pink', False), (215.3, 217, 'paleyellow', True),
    (217, 218.8, 'yellow', False), (219.6, 221.4, 'tan', True), (221, 224.7, 'yellow', False),
    (227.4, 228.5, 'yellow', False), (235.6, 236.8, 'yellow', False), (241.4, 243.5, 'tan', True),
    (244, 245.3, 'yellow', False), (268.5, 270.2, 'lime', False), (288.7, 290.2, 'tan', True),
    (288, 289.8, 'yellow', False), (291.6, 293.7, 'yellow', False), (328.8, 330.5, 'pink', False),
    (347.9, 349, 'yellow', False), (389.9, 391.2, 'lime', False),
]

LITHO_COLORS = {
    'basalt': '#0b9ddb', 'light': '#80d8ff', 'pale': '#e3f4fb', 'dark': '#1f2b78',
    'orange': '#ff7f2a', 'sed': '#f5c2a6', 'pink': '#f6bcd8', 'purple': '#c38cf0',
    'yellow': '#fff200', 'tan': '#ffd86e', 'paleyellow': '#fff5a8', 'lime': '#c2d92c',
}

TRACK_COLORS = ['#000000', '#f15a29', '#c1272d', '#c1272d', '#0071bc', '#0071bc',
                '#0071bc', '#0071bc', '#93278f', '#93278f', '#93278f', '#006837']

# pixel layout of the figure
W, H = 1367, 744
TOP = 93
DEPTH_MAX = 403.1
TRACK_X = [(121, 215), (225.7, 300), (313.3, 405), (421, 512.5), (528.3, 620), (639, 730.7),
           (750, 841.7), (857.3, 950), (966, 1049), (1060, 1143), (1154, 1236.7), (1251.7, 1345)]

fig = plt.figure(figsize=(W / 100, H / 100), dpi=100)


def add_track(x0, x1):
    ax = fig.add_axes([x0 / W, 0, (x1 - x0) / W, (H - TOP) / H])
    ax.set_ylim(DEPTH_MAX, 0)
    ax.patch.set_visible(False)
    return ax


# depth grid lines across the mineral tracks
grid_ax = add_track(113, 1358)
grid_ax.set_xlim(0, 1)
grid_ax.axis('off')
for d in [100, 200, 300, 400]:
    grid_ax.axhline(d, color='#8c8c8c', lw=1.0)

# lithology + unit column
lith = add_track(53, 113)
lith.set_xlim(0, 60)
lith.add_patch(Rectangle((0, 2.9), 33, DEPTH_MAX, color=LITHO_COLORS['basalt'], lw=0))
for top, bot, kind in LITHO_BANDS:
    lith.add_patch(Rectangle((0, top), 33, bot - top, color=LITHO_COLORS[kind], lw=0))
for top, bot, kind, long_bar in LITHO_MARKS:
    lith.add_patch(Rectangle((0, top), 51 if long_bar else 42, bot - top,
                             color=LITHO_COLORS[kind], lw=0))
for i, top in enumerate(UNIT_TOPS):
    lith.plot([33 if i == 0 else 0, 60], [top, top], color='#444444', lw=1.1)
    lith.text(47, UNIT_LABEL_DEPTH[i], UNIT_NAMES[i], ha='center', va='center',
              fontsize=10, color='#333333')
lith.plot([60, 60], [UNIT_TOPS[0], DEPTH_MAX], color='#444444', lw=1.1, clip_on=False)
for side in ['top', 'right', 'bottom']:
    lith.spines[side].set_visible(False)
lith.spines['left'].set_color('#333333')
lith.spines['left'].set_linewidth(1.6)
lith.set_xticks([])
lith.set_yticks(range(0, 401, 50))
lith.tick_params(axis='y', direction='out', length=7, width=2, labelsize=8.5, pad=2)

fig.text(13 / W, 1 - 415 / H, 'Depth CAD (m)', rotation=90, ha='center', va='center', fontsize=8.5)
fig.text(71 / W, 1 - 85 / H, 'Lithology', rotation=90, ha='center', va='bottom', fontsize=9.5)
fig.text(101 / W, 1 - 85 / H, 'Lith. unit', rotation=90, ha='center', va='bottom', fontsize=9.5)

# mineral tracks
for name, data, color, xmax, step, labels, (x0, x1) in zip(
        TRACK_NAMES, TRACK_DATA, TRACK_COLORS, TRACK_XMAX, TRACK_STEP, TRACK_LABELS, TRACK_X):
    ax = add_track(x0, x1)
    arr = np.array(data, dtype=float)
    ax.plot(arr[:, 1], arr[:, 0], color=color, lw=1.8, clip_on=False)
    ax.set_xlim(0, xmax)
    ticks = list(np.arange(0, xmax + 1e-6, step))
    if ticks[-1] < xmax:
        ticks.append(xmax)
    ax.set_xticks(ticks)
    ax.set_xticklabels([f'{t:g}' if any(abs(t - l) < 1e-6 for l in labels) else '' for t in ticks])
    ax.xaxis.tick_top()
    ax.tick_params(axis='x', direction='out', length=3, width=1, labelsize=8, pad=2)
    ax.set_yticks([])
    for side in ['left', 'right', 'bottom']:
        ax.spines[side].set_visible(False)
    ax.spines['top'].set_linewidth(1.2)
    fig.text((x0 + x1) / 2 / W, 1 - 57 / H, name, ha='center', va='center', fontsize=10)

fig.text(717 / W, 1 - 17 / H, 'Area of the core represented by secondary minerals in veins (%)',
         ha='center', va='center', fontsize=10)

fig.savefig('out.png', dpi=100)
